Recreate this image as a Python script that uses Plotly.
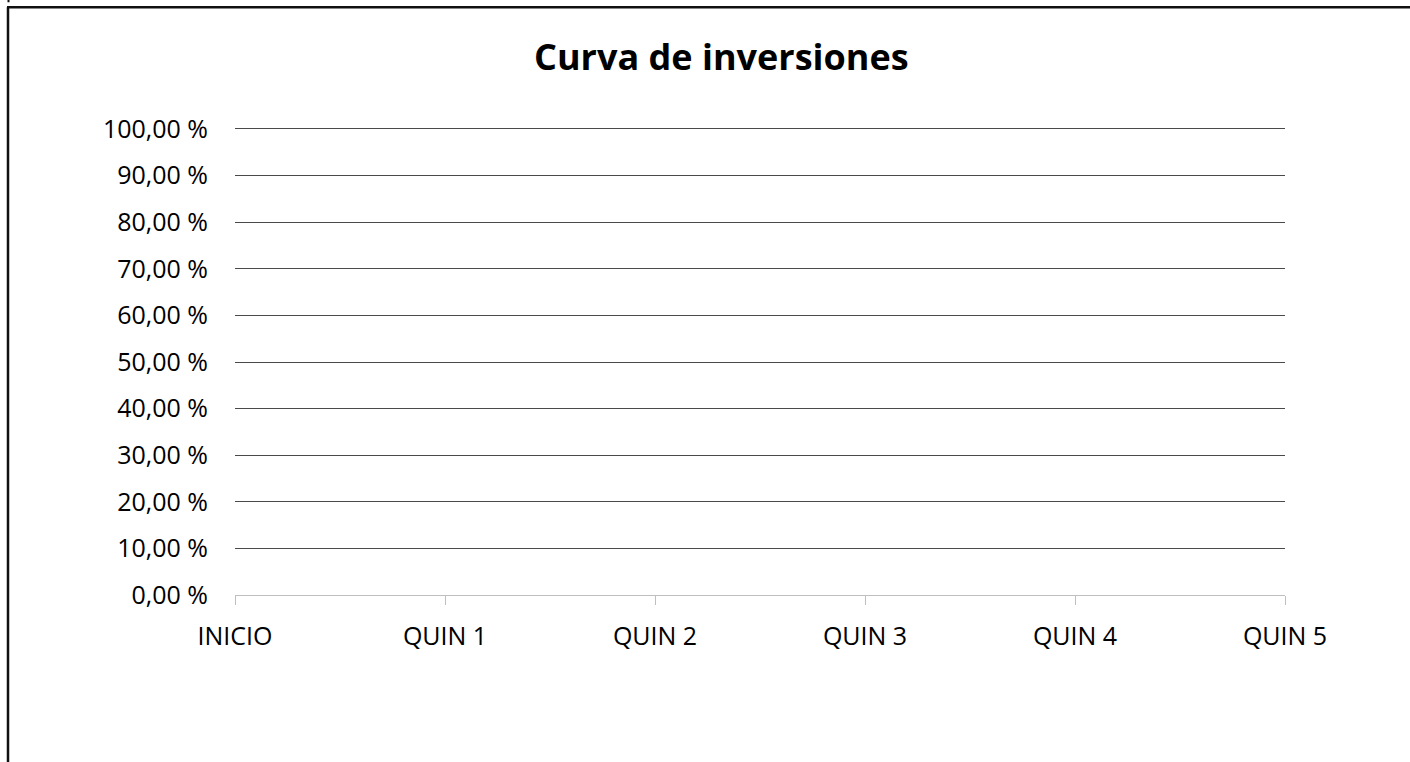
import plotly.graph_objects as go

# Category labels and series values (no amounts entered yet)
periodos = ["INICIO", "QUIN 1", "QUIN 2", "QUIN 3", "QUIN 4", "QUIN 5"]
avance = [None, None, None, None, None, None]

# Y axis ticks and their Spanish-formatted labels
y_ticks = [0.0, 0.1, 0.2, 0.3, 0.4, 0.5, 0.6, 0.7, 0.8, 0.9, 1.0]
y_tick_labels = ["0,00 %", "10,00 %", "20,00 %", "30,00 %", "40,00 %", "50,00 %",
                 "60,00 %", "70,00 %", "80,00 %", "90,00 %", "100,00 %"]

W, H = 1410, 762
Y_TOP = 1.015
L, R, B = 235, 1285, 595.5
T = B - (B - 129.3) * Y_TOP  # plot area top so that 100 % lands on its gridline


def px(x):
    return (x - L) / (R - L)


def py(y):
    return (B - y) / (B - T)


fig = go.Figure()
fig.add_trace(go.Scatter(
    x=periodos, y=avance, mode="lines+markers",
    line=dict(color="#4472c4", width=2.5), showlegend=False,
))

font_family = "Open Sans, Noto Sans, sans-serif"

fig.update_layout(
    width=W, height=H,
    margin=dict(l=L, r=W - R, t=T, b=H - B, autoexpand=False),
    paper_bgcolor="white", plot_bgcolor="white",
    font=dict(family=font_family, color="#000000", size=25),
    xaxis=dict(
        type="category", range=[0, 5],
        showgrid=False, zeroline=False,
        showline=True, linecolor="#bfbfbf", linewidth=1,
        ticks="outside", ticklen=9, tickcolor="#bfbfbf", tickwidth=1,
        tickfont=dict(size=25, family=font_family, color="#000000"),
        ticklabelstandoff=10,
    ),
    yaxis=dict(
        range=[0, Y_TOP],
        tickvals=y_ticks, ticktext=y_tick_labels,
        showgrid=True, gridcolor="#4a4a4a", gridwidth=1,
        zeroline=False, showline=False, ticks="",
        tickfont=dict(size=25, family=font_family, color="#000000"),
        ticklabelstandoff=26,
    ),
    annotations=[dict(
        text="<b>Curva de inversiones</b>", showarrow=False,
        xref="paper", yref="paper", x=px(721), y=py(57),
        xanchor="center", yanchor="middle",
        font=dict(size=36, family=font_family, color="#000000"),
    )],
    shapes=[
        # chart frame: left and top edges
        dict(type="line", xref="paper", yref="paper",
             x0=px(8), y0=py(H + 5), x1=px(8), y1=py(7.5),
             line=dict(color="#111111", width=2.5)),
        dict(type="line", xref="paper", yref="paper",
             x0=px(7), y0=py(7.5), x1=px(W + 5), y1=py(7.5),
             line=dict(color="#111111", width=2.5)),
        dict(type="line", xref="paper", yref="paper",
             x0=px(8.5), y0=py(0), x1=px(8.5), y1=py(2.5),
             line=dict(color="#111111", width=2)),
    ],
)

fig.write_html("out.html")
